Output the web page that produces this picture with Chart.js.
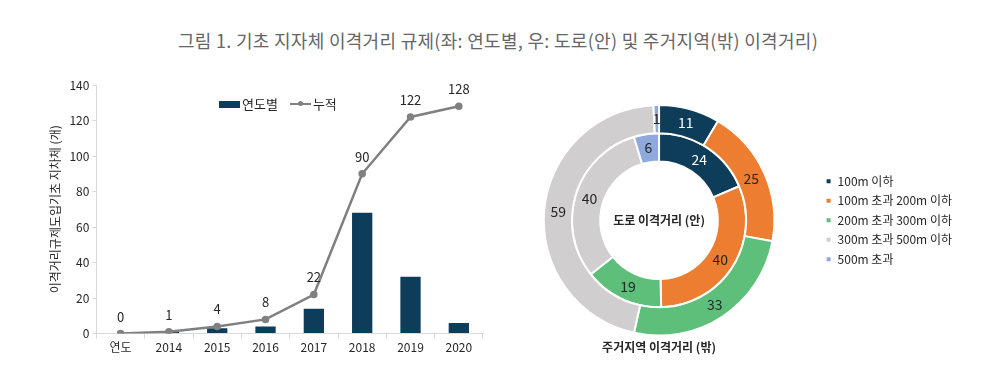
<!DOCTYPE html>
<html>
<head>
<meta charset="utf-8">
<script src="https://cdn.jsdelivr.net/npm/chart.js@4.4.1/dist/chart.umd.min.js"></script>
<style>
  html, body { margin: 0; padding: 0; background: #fff; }
  body { width: 996px; height: 375px; position: relative; overflow: hidden; font-family: "Noto Sans CJK KR", sans-serif; }
  #title { position: absolute; left: 0; top: 27px; width: 996px; text-align: center; font-size: 18px; color: #666; letter-spacing: 0.3px; }
  #left { position: absolute; left: 0; top: 68px; width: 495px; height: 297px; }
  #right { position: absolute; left: 500px; top: 95px; width: 496px; height: 270px; }
  #legend1 { position: absolute; left: 219px; top: 94px; font-size: 13px; color: #262626; line-height: 18px; white-space: nowrap; }
  #legend1 span { display: inline-block; vertical-align: middle; }
  .bar { width: 21px; height: 7px; background: #0e3d5a; margin-right: 2px; }
  .line { width: 21px; height: 2px; background: #808080; margin-left: 12px; margin-right: 2px; position: relative; }
  .line::after { content: ""; position: absolute; left: 8px; top: -2px; width: 5px; height: 5px; border-radius: 50%; background: #808080; }
</style>
</head>
<body>
<div id="title">그림 1. 기초 지자체 이격거리 규제(좌: 연도별, 우: 도로(안) 및 주거지역(밖) 이격거리)</div>
<div id="left"><canvas id="연도차트"></canvas></div>
<div id="legend1"><span class="bar"></span><span>연도별</span><span class="line"></span><span>누적</span></div>
<div id="right"><canvas id="도넛차트"></canvas></div>
<script>
// 데이터
const 연도 = ['연도', '2014', '2015', '2016', '2017', '2018', '2019', '2020'];
const 연도별 = [0, 1, 3, 4, 14, 68, 32, 6];
const 누적 = [0, 1, 4, 8, 22, 90, 122, 128];
const y눈금 = [0, 20, 40, 60, 80, 100, 120, 140];

const 구간 = ['100m 이하', '100m 초과 200m 이하', '200m 초과 300m 이하', '300m 초과 500m 이하', '500m 초과'];
const 주거지역 = [11, 25, 33, 59, 1];   // 바깥 (밖)
const 도로 = [24, 40, 19, 40, 6];       // 안쪽 (안)
const 구간색 = ['#0e3d5a', '#ed7d31', '#5dbf7a', '#d0cece', '#8eaadc'];

Chart.defaults.font.family = '"Noto Sans CJK KR", sans-serif';
Chart.defaults.font.size = 12;
Chart.defaults.color = '#262626';
Chart.defaults.animation = false;

// 선 위 숫자
const 선라벨 = {
  id: 'lineLabels',
  afterDatasetsDraw(chart) {
    const ctx = chart.ctx;
    const meta = chart.getDatasetMeta(1);
    ctx.save();
    ctx.font = '13px "Noto Sans CJK KR", sans-serif';
    ctx.fillStyle = '#262626';
    ctx.textAlign = 'center';
    ctx.textBaseline = 'middle';
    meta.data.forEach(function (pt, i) {
      ctx.fillText(누적[i], pt.x, pt.y - 17);
    });
    ctx.restore();
  }
};

new Chart(document.getElementById('연도차트').getContext('2d'), {
  data: {
    labels: 연도,
    datasets: [
      {
        type: 'bar',
        label: '연도별',
        data: 연도별,
        backgroundColor: '#0e3d5a',
        barPercentage: 0.42,
        categoryPercentage: 1,
        order: 1
      },
      {
        type: 'line',
        label: '누적',
        data: 누적,
        borderColor: '#808080',
        backgroundColor: '#808080',
        borderWidth: 2.5,
        pointRadius: 2.5,
        tension: 0,
        order: 0
      }
    ]
  },
  options: {
    responsive: true,
    maintainAspectRatio: false,
    layout: { padding: { top: 17, right: 12, left: 44, bottom: 8 } },
    plugins: {
      tooltip: { enabled: false },
      legend: { display: false }
    },
    scales: {
      x: {
        grid: { drawOnChartArea: false, offset: true, tickLength: 5, color: '#d9d9d9' },
        border: { color: '#d9d9d9' },
        ticks: { font: { size: 12 }, color: '#262626', padding: 2 }
      },
      y: {
        min: 0,
        max: 140,
        afterBuildTicks(axis) { axis.ticks = y눈금.map(v => ({ value: v })); },
        grid: { drawOnChartArea: false, tickLength: 4, color: '#d9d9d9' },
        border: { color: '#d9d9d9' },
        ticks: { font: { size: 12 }, color: '#262626', padding: 3 },
        title: { display: true, text: '이격거리규제도입기초 지차체 (개)', font: { size: 12 }, color: '#262626', padding: 4 }
      }
    }
  },
  plugins: [선라벨]
});

// 도넛 숫자 + 가운데 글자
const 도넛라벨 = {
  id: 'donutLabels',
  afterDatasetsDraw(chart) {
    const ctx = chart.ctx;
    ctx.save();
    ctx.font = '14px "Noto Sans CJK KR", sans-serif';
    ctx.textAlign = 'center';
    ctx.textBaseline = 'middle';
    chart.data.datasets.forEach(function (ds, di) {
      chart.getDatasetMeta(di).data.forEach(function (arc, i) {
        const p = arc.tooltipPosition();
        ctx.fillStyle = i === 0 ? '#ffffff' : '#262626';
        ctx.fillText(ds.data[i], p.x, p.y);
      });
    });
    const a = chart.chartArea;
    ctx.font = 'bold 12px "Noto Sans CJK KR", sans-serif';
    ctx.fillStyle = '#262626';
    ctx.fillText('도로 이격거리 (안)', (a.left + a.right) / 2, (a.top + a.bottom) / 2);
    ctx.restore();
  }
};

new Chart(document.getElementById('도넛차트').getContext('2d'), {
  type: 'doughnut',
  data: {
    labels: 구간,
    datasets: [
      { label: '주거지역', data: 주거지역, backgroundColor: 구간색, borderColor: '#fff', borderWidth: 2 },
      { label: '도로', data: 도로, backgroundColor: 구간색, borderColor: '#fff', borderWidth: 2 }
    ]
  },
  options: {
    responsive: true,
    maintainAspectRatio: false,
    cutout: '51%',
    layout: { padding: { top: 9, left: 0, right: 34, bottom: 0 } },
    plugins: {
      tooltip: { enabled: false },
      legend: {
        position: 'right',
        fullSize: false,
        labels: {
          boxWidth: 6,
          boxHeight: 6,
          padding: 7.5,
          font: { size: 12 },
          color: '#262626'
        }
      },
      title: {
        display: true,
        position: 'bottom',
        fullSize: false,
        text: '주거지역 이격거리 (밖)',
        font: { size: 12, weight: 'bold' },
        color: '#262626',
        padding: { top: 4, bottom: 10 }
      }
    }
  },
  plugins: [도넛라벨]
});
</script>
</body>
</html>
